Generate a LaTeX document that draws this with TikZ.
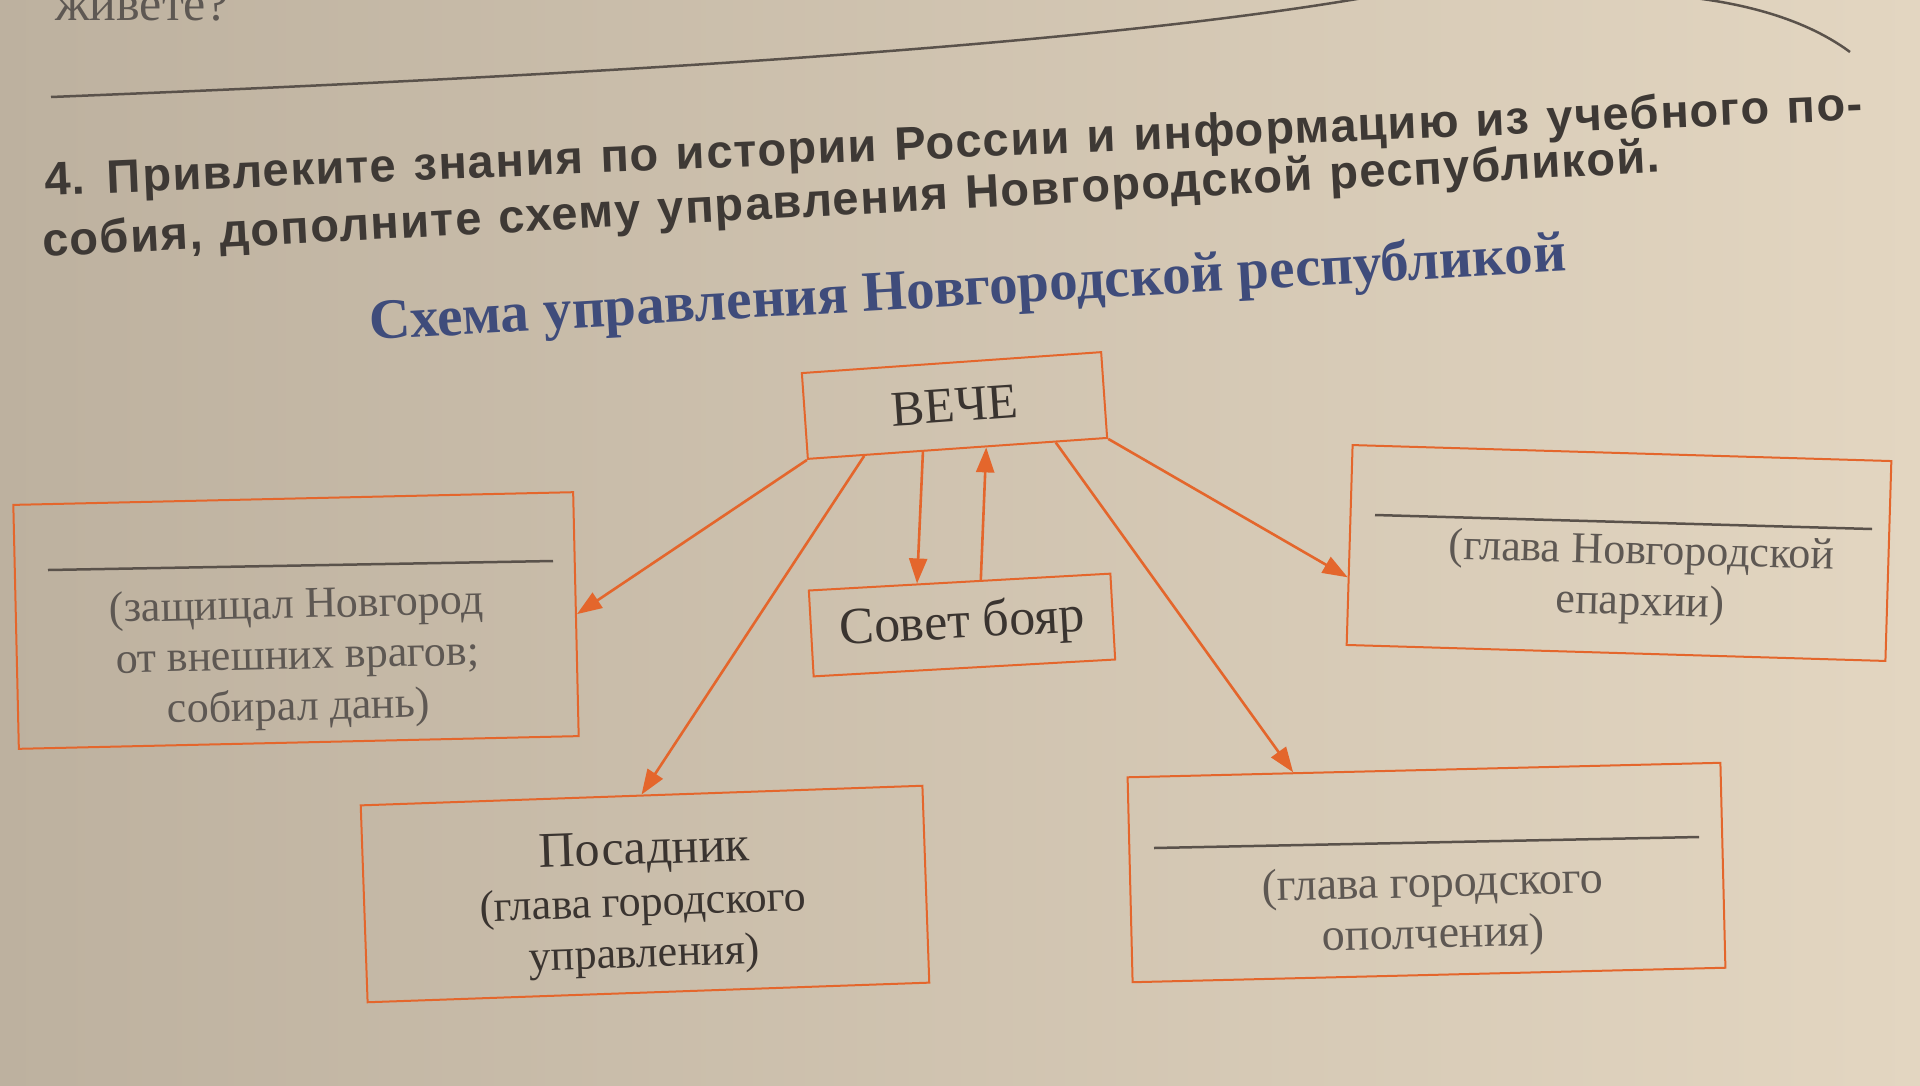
\documentclass[tikz,border=0pt]{standalone}
\usepackage{fontspec}
\setmainfont{Liberation Serif}
\newfontfamily\tasksans[LetterSpace=3,WordSpace=1.2]{Liberation Sans}
\usetikzlibrary{arrows.meta,calc}
\definecolor{paperL}{HTML}{BDB19F}
\definecolor{paperR}{HTML}{E3D6C1}
\definecolor{orng}{HTML}{E4662C}
\definecolor{ink}{HTML}{3A3430}
\definecolor{inkL}{HTML}{5E5853}
\definecolor{taskink}{HTML}{3E3935}
\definecolor{headblue}{HTML}{3F4C7B}
\definecolor{penline}{HTML}{5A524B}
\begin{document}
\begin{tikzpicture}[x=1pt,y=-1pt,
  box/.style={draw=orng,line width=2pt,inner sep=0pt},
  arr/.style={draw=orng,line width=2.6pt,-{Triangle[length=25pt,width=18pt]}},
  blank/.style={draw=penline,line width=2.5pt},
  lbl/.style={text=ink,inner sep=0pt},
  note/.style={text=inkL,inner sep=0pt,align=center,anchor=base,
     font=\fontsize{44}{51}\selectfont},
  task/.style={text=taskink,inner sep=0pt,anchor=base west,
     font=\tasksans\bfseries\fontsize{47}{47}\selectfont}]
\useasboundingbox (0,0) rectangle (1920,1085);
\clip (0,0) rectangle (1920,1085);
\shade[left color=paperL,right color=paperR] (0,0) rectangle (1920,1085);

% page top
\node[text=inkL,inner sep=0pt,anchor=base west,font=\fontsize{50}{50}\selectfont] (prev) at (55,20) {живете?};
\draw[penline,line width=2.5pt] (51,97) .. controls (600,75) and (1100,45) .. (1380,-5);
\draw[penline,line width=2.5pt] (1665,-5) .. controls (1730,0) and (1800,15) .. (1850,52);

% task text
\node[task,rotate=2.4] (task1) at (45,196) {4. Привлеките знания по истории России и информацию из учебного по-};
\node[task,rotate=3.0] (task2) at (43,257) {собия, дополните схему управления Новгородской республикой.};

% heading
\node[text=headblue,inner sep=0pt,anchor=base west,rotate=3.3,
  font=\bfseries\fontsize{57}{57}\selectfont] (head) at (370,340) {Схема управления Новгородской республикой};

% boxes
\node[box,lbl,minimum width=300pt,minimum height=86pt,rotate=4,
  font=\fontsize{50}{50}\selectfont] (veche) at (954.5,405.5) {ВЕЧЕ};
\node[box,lbl,minimum width=302pt,minimum height=86pt,rotate=3.2,
  font=\fontsize{52}{52}\selectfont] (sovet) at (962,625) {Совет бояр};
\node[box,minimum width=560pt,minimum height=244pt,rotate=1.3] (left) at (296,620.5) {};
\node[box,minimum width=562pt,minimum height=197pt,rotate=2.0] (posad) at (645,894) {};
\node[box,minimum width=593pt,minimum height=205pt,rotate=1.4] (mil) at (1426.5,872.5) {};
\node[box,minimum width=539pt,minimum height=200pt,rotate=-1.7] (eparch) at (1619,553) {};

% blanks
\draw[blank] (48,570) -- (553,561);
\draw[blank] (1375,515) -- (1872,529);
\draw[blank] (1154,848) -- (1699,837);

% box texts (base anchor = baseline of the last line)
\node[note,rotate=1.3] (leftT) at (299,720) {(защищал Новгород\\от внешних врагов;\\собирал дань)};
\node[note,rotate=-1.5] (eparchT) at (1640,615) {(глава Новгородской\\епархии)};
\node[note,rotate=1.4,font=\fontsize{46}{51}\selectfont] (milT) at (1434,948) {(глава городского\\ополчения)};
\node[lbl,anchor=base,rotate=2.0,font=\fontsize{50}{50}\selectfont] (posadT) at (645,864) {Посадник};
\node[note,text=ink,rotate=2.0] (posadN) at (645,967) {(глава городского\\управления)};

% connectors
\draw[arr] (veche.south west) -- (left.east);
\draw[arr] ($(veche.south west)!0.19!(veche.south east)$) -- (posad.north);
\draw[arr] ($(veche.south west)!0.385!(veche.south east)$) -- ($(sovet.north west)!0.36!(sovet.north east)$);
\draw[arr] ($(sovet.north west)!0.57!(sovet.north east)$) -- ($(veche.south west)!0.595!(veche.south east)$);
\draw[arr] ($(veche.south west)!0.826!(veche.south east)$) -- ($(mil.north west)!0.28!(mil.north east)$);
\draw[arr] (veche.south east) -- ($(eparch.north west)!0.66!(eparch.south west)$);
\end{tikzpicture}
\end{document}
